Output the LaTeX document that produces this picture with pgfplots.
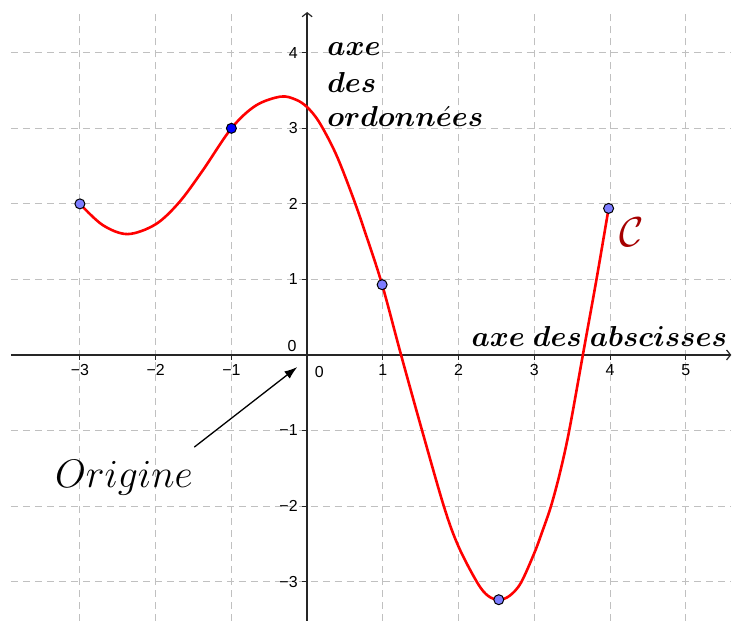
\RequirePackage{fix-cm}
\documentclass[border=0pt]{standalone}
\usepackage{bm}
\usepackage{fontspec}
\setmainfont{Liberation Sans}
\usepackage{pgfplots}
\pgfplotsset{compat=1.18}
\usetikzlibrary{arrows.meta}
\definecolor{ptfill}{RGB}{125,125,255}
\definecolor{cred}{RGB}{165,0,0}
\definecolor{gridc}{RGB}{192,192,192}
\begin{document}
\begin{tikzpicture}
\begin{axis}[
  x=75.8bp, y=75.6bp,
  xmin=-3.91, xmax=5.6, ymin=-3.52, ymax=4.54,
  axis lines=middle,
  axis line style={line width=1.4bp, black!85, -{Straight Barb[length=4bp,width=10bp,line width=1.2bp]}},
  xtick={-3,-2,-1,0,1,2,3,4,5},
  ytick={-3,-2,-1,0,1,2,3,4},
  xticklabels={−3,−2,−1,,1,2,3,4,5},
  yticklabels={−3,−2,−1,,1,2,3,4},
  tick align=outside,
  major tick length=5bp,
  tick style={black!85, line width=1bp},
  xticklabel style={font=\fontsize{16}{18}\selectfont, anchor=north, yshift=-1bp},
  yticklabel style={font=\fontsize{16}{18}\selectfont, anchor=east, xshift=-1bp},
  grid=major,
  major grid style={gridc, line width=1bp, dash pattern=on 7bp off 5bp},
  clip=false,
]
\addplot[red, line width=2.6bp, smooth, tension=0.55] coordinates {
(-3,2) (-2.70,1.72) (-2.37,1.60) (-2.0,1.73) (-1.69,2.02) (-1.38,2.44) (-1,3.0)
(-0.68,3.30) (-0.35,3.42) (-0.15,3.38) (0,3.28) (0.16,3.08) (0.38,2.66) (0.6,2.10) (0.77,1.61)
(0.99,0.93) (1.24,0) (1.52,-1.01) (1.81,-2.02) (2.0,-2.54) (2.25,-3.02) (2.39,-3.19) (2.53,-3.24)
(2.67,-3.19) (2.82,-3.02) (3.0,-2.62) (3.1,-2.35) (3.22,-2.0) (3.34,-1.55) (3.46,-1.0) (3.64,0) (3.82,1.0) (3.98,1.94)
};
\addplot[only marks, mark=*, mark size=5bp, mark options={fill=ptfill, draw=black, line width=1bp}] coordinates {
(-3,2) (0.99,0.93) (2.53,-3.24) (3.98,1.94)
};
\addplot[only marks, mark=*, mark size=5bp, mark options={fill=blue, draw=black, line width=1bp}] coordinates {
(-1,3)
};
\node[font=\fontsize{16}{18}\selectfont] at (axis cs:-0.2,0.12) {0};
\node[font=\fontsize{16}{18}\selectfont] at (axis cs:0.16,-0.22) {0};
\node[anchor=base west, inner sep=0pt, font=\fontsize{29}{34}\selectfont] at (axis cs:2.17,0.106) {$\bm{axe\ des\ abscisses}$};
\node[anchor=base west, inner sep=0pt, font=\fontsize{29}{34}\selectfont] at (axis cs:0.263,3.97) {$\bm{axe}$};
\node[anchor=base west, inner sep=0pt, font=\fontsize{29}{34}\selectfont] at (axis cs:0.263,3.48) {$\bm{des}$};
\node[anchor=base west, inner sep=0pt, font=\fontsize{29}{34}\selectfont] at (axis cs:0.263,3.02) {$\bm{ordonn\acute{e}es}$};
\node[anchor=base west, inner sep=0pt, font=\fontsize{40}{48}\selectfont] at (axis cs:-3.33,-1.75) {$Origine$};
\node[text=cred, font=\fontsize{42}{50}\selectfont] at (axis cs:4.29,1.62) {$\mathcal{C}$};
\draw[black, line width=1.3bp, -{Latex[length=13bp,width=9bp]}] (axis cs:-1.49,-1.22) -- (axis cs:-0.13,-0.16);
\end{axis}
\path (current axis.south west) ++(-11bp,0) (current axis.north east) ++(0,12bp);
\end{tikzpicture}
\end{document}
